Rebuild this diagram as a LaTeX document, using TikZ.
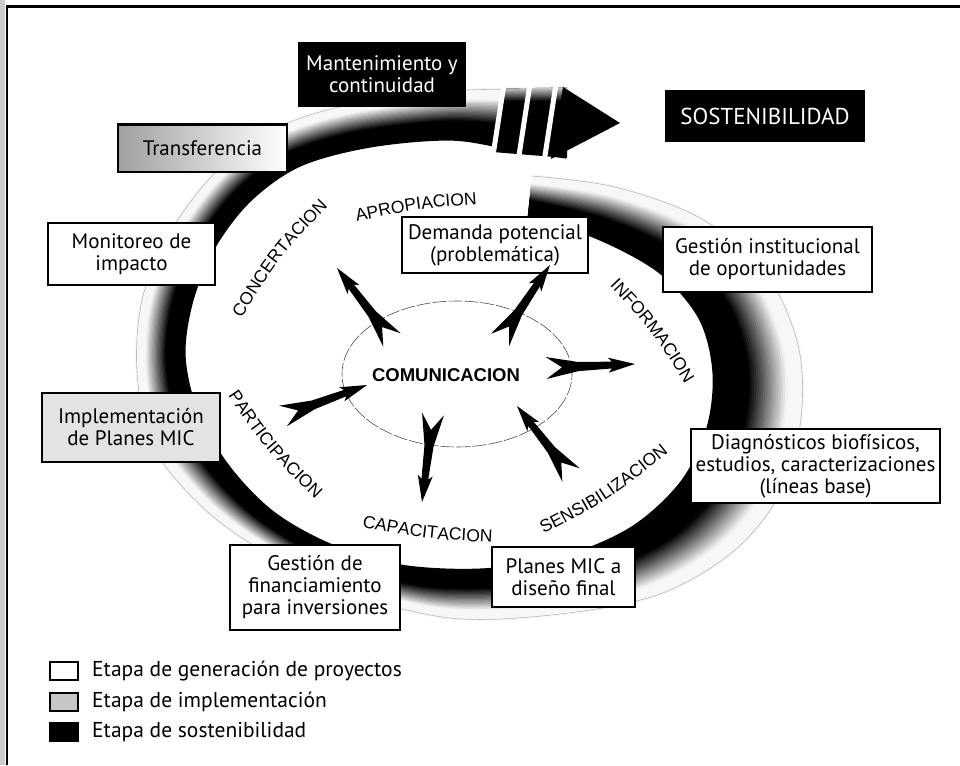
\documentclass[tikz,border=0pt]{standalone}
\usepackage{fontspec}
\setmainfont{PT Sans}
\newfontfamily\ringfamily{Liberation Sans}
\usetikzlibrary{calc,decorations.text,shapes.geometric}

\newcommand\boxfont{\fontsize{21}{22}\selectfont}
\newcommand\ringsize{\ringfamily\fontsize{17.5}{19}\selectfont}

% feathered dart from tail coordinate #1 to tip coordinate #2
\newcommand\dartshape[2]{%
  \fill[dartfill] ($(#1)!11pt!90:(#2)$)
    -- ($(#1)!0.36!(#2)!4.6pt!90:(#2)$)
    -- ($(#1)!0.74!(#2)!3.4pt!90:(#2)$)
    -- ($(#1)!0.70!(#2)!7.5pt!90:(#2)$)
    -- (#2)
    -- ($(#1)!0.70!(#2)!7.5pt!-90:(#2)$)
    -- ($(#1)!0.74!(#2)!3.4pt!-90:(#2)$)
    -- ($(#1)!0.36!(#2)!4.6pt!-90:(#2)$)
    -- ($(#1)!11pt!-90:(#2)$)
    -- ($(#1)!0.18!(#2)$) -- cycle;}

\begin{document}
\begin{tikzpicture}[x=1pt,y=-1pt,
  stagebox/.style={draw=black, line width=1.5pt, fill=white, align=center, font=\boxfont, inner sep=1pt},
  blackbox/.style={fill=black, text=white, align=center, inner sep=1pt},
  ringtext/.style={decorate, decoration={text along path, text align=center, text={|\ringsize|#1}}},
  legendsq/.style={draw=black, line width=1.1pt, minimum width=28pt, minimum height=18pt, inner sep=0pt},
  legendtext/.style={anchor=west, font=\fontsize{21.5}{23}\selectfont, inner sep=0pt},
  hubstyle/.style={draw=black!70, line width=0.6pt, dash pattern=on 14pt off 2pt, ellipse, inner sep=0pt},
  dartfill/.style={fill=black},
  gapline/.style={white, line width=5pt},
]
\useasboundingbox (0,0) rectangle (960,765);

% frame
\fill[gray!40] (0,0) rectangle (5,765);
\draw[line width=2.5pt] (7,765) -- (7,6.5) -- (960,6.5);

% inner (I) and outer (O) edges of the spiral ribbon, clockwise from its start
\coordinate (I1) at (528,215);  \coordinate (O1) at (532,176);
\coordinate (I2) at (598,238);  \coordinate (O2) at (615,187);
\coordinate (I3) at (660,272);  \coordinate (O3) at (700,218);
\coordinate (I4) at (700,318);  \coordinate (O4) at (765,272);
\coordinate (I5) at (714,372);  \coordinate (O5) at (798,345);
\coordinate (I6) at (708,428);  \coordinate (O6) at (801,418);
\coordinate (I7) at (682,482);  \coordinate (O7) at (782,490);
\coordinate (I8) at (632,528);  \coordinate (O8) at (735,550);
\coordinate (I9) at (562,558);  \coordinate (O9) at (660,594);
\coordinate (I10) at (482,570); \coordinate (O10) at (560,614);
\coordinate (I11) at (400,566); \coordinate (O11) at (450,618);
\coordinate (I12) at (330,545); \coordinate (O12) at (340,590);
\coordinate (I13) at (272,512); \coordinate (O13) at (258,548);
\coordinate (I14) at (227,465); \coordinate (O14) at (200,505);
\coordinate (I15) at (196,410); \coordinate (O15) at (152,445);
\coordinate (I16) at (184,355); \coordinate (O16) at (137,372);
\coordinate (I17) at (192,300); \coordinate (O17) at (142,300);
\coordinate (I18) at (214,247); \coordinate (O18) at (168,236);
\coordinate (I19) at (250,200); \coordinate (O19) at (210,178);
\coordinate (I20) at (300,165); \coordinate (O20) at (262,135);
\coordinate (I21) at (370,146); \coordinate (O21) at (335,108);
\coordinate (I22) at (450,139); \coordinate (O22) at (440,92);
\coordinate (I23) at (510,148); \coordinate (O23) at (510,89);
\coordinate (I24) at (566,157); \coordinate (O24) at (566,88);

% ribbon: dark inner side fading to a pale outer side
\foreach \k in {0,...,40}{
  \pgfmathsetmacro\s{\k/40}
  \pgfmathsetmacro\p{\s<0.4 ? 100 : max(3,100*(1-(\s-0.4)/0.45))}
  \draw[line width=3.2pt, black!\p] plot[smooth, tension=0.55] coordinates {
    ($(I1)!\s!(O1)$) ($(I2)!\s!(O2)$) ($(I3)!\s!(O3)$) ($(I4)!\s!(O4)$)
    ($(I5)!\s!(O5)$) ($(I6)!\s!(O6)$) ($(I7)!\s!(O7)$) ($(I8)!\s!(O8)$)
    ($(I9)!\s!(O9)$) ($(I10)!\s!(O10)$) ($(I11)!\s!(O11)$) ($(I12)!\s!(O12)$)
    ($(I13)!\s!(O13)$) ($(I14)!\s!(O14)$) ($(I15)!\s!(O15)$) ($(I16)!\s!(O16)$)
    ($(I17)!\s!(O17)$) ($(I18)!\s!(O18)$) ($(I19)!\s!(O19)$) ($(I20)!\s!(O20)$)
    ($(I21)!\s!(O21)$) ($(I22)!\s!(O22)$) ($(I23)!\s!(O23)$) ($(I24)!\s!(O24)$)};
}
\draw[gray!55, line width=0.6pt] plot[smooth, tension=0.55] coordinates {
  (O1) (O2) (O3) (O4) (O5) (O6) (O7) (O8) (O9) (O10) (O11) (O12)
  (O13) (O14) (O15) (O16) (O17) (O18) (O19) (O20) (O21) (O22) (O23) (O24)};

% arrow end of the ribbon: solid shaft with a pale top rim, three cuts and the head
\coordinate (sh1) at (503.5,88.5); \coordinate (sh2) at (567,87.5);
\coordinate (sh3) at (567,158);    \coordinate (sh4) at (492.5,152);
\coordinate (rim1) at (501.4,101); \coordinate (rim2) at (567,101);
\fill (sh1) -- (sh2) -- (sh3) -- (sh4) -- cycle;
\shade[top color=gray!40, bottom color=black] (sh1) -- (sh2) -- (rim2) -- (rim1) -- cycle;
\coordinate (g1a) at (504,84);  \coordinate (g1b) at (492,162);
\coordinate (g2a) at (530,84);  \coordinate (g2b) at (518,162);
\coordinate (g3a) at (556,84);  \coordinate (g3b) at (544,162);
\draw[gapline] (g1a) -- (g1b);
\draw[gapline] (g2a) -- (g2b);
\draw[gapline] (g3a) -- (g3b);
\coordinate (hd1) at (563,87); \coordinate (hdtip) at (620,123); \coordinate (hd2) at (551,159);
\fill (hd1) -- (hdtip) -- (hd2) -- cycle;

% stage boxes
\node[blackbox, font=\boxfont, minimum width=168pt, minimum height=65pt] (mant) at (382,74.5)
  {Mantenimiento y\\continuidad};
\node[blackbox, font=\fontsize{23}{25}\selectfont, minimum width=200pt, minimum height=52pt] (sost) at (765,116)
  {SOSTENIBILIDAD};
\node[stagebox, left color=gray!75, middle color=gray!12, right color=white,
      minimum width=169pt, minimum height=47pt] (transf) at (202.5,148.5) {Transferencia};
\draw[line width=3pt] (transf.north west) -- (transf.north east);
\node[stagebox, minimum width=167pt, minimum height=62pt] (monit) at (131.5,254) {Monitoreo de\\impacto};
\node[stagebox, fill=gray!22, minimum width=178pt, minimum height=69pt] (impl) at (131,427.5)
  {Implementación\\de Planes MIC};
\node[stagebox, minimum width=186pt, minimum height=56pt] (dem) at (495,245)
  {Demanda potencial\\(problemática)};
\node[stagebox, minimum width=209pt, minimum height=65pt] (gins) at (767.5,259.5)
  {Gestión institucional\\de oportunidades};
\node[stagebox, minimum width=249pt, minimum height=74pt] (diag) at (815.5,466)
  {Diagnósticos biofísicos,\\estudios, caracterizaciones\\(líneas base)};
\node[stagebox, minimum width=143pt, minimum height=60pt] (plan) at (563.5,577)
  {Planes MIC a\\diseño final};
\node[stagebox, minimum width=170pt, minimum height=85pt] (gfin) at (315,587.5)
  {Gestión de\\financiamiento\\para inversiones};

% communication hub and its darts
\node[hubstyle, minimum width=230pt, minimum height=146pt] (hub) at (457,374) {};
\node[font=\ringfamily\bfseries\fontsize{18.5}{20}\selectfont, inner sep=0pt] (hubtext) at (446,375) {COMUNICACION};

\coordinate (d1t) at (392,340); \coordinate (d1h) at (337,268);
\coordinate (d2t) at (500,340); \coordinate (d2h) at (550,265);
\coordinate (d3t) at (546,368); \coordinate (d3h) at (635,364);
\coordinate (d4t) at (571,475); \coordinate (d4h) at (517,406);
\coordinate (d5t) at (433,414); \coordinate (d5h) at (422,502);
\coordinate (d6t) at (283,416); \coordinate (d6h) at (367,385);
\dartshape{d1t}{d1h}
\dartshape{d2t}{d2h}
\dartshape{d3t}{d3h}
\dartshape{d4t}{d4h}
\dartshape{d5t}{d5h}
\dartshape{d6t}{d6h}

% labels around the hub
\path[ringtext=APROPIACION] (343,224.4) .. controls (416.3,208.7) .. (491,203.6);
\path[ringtext=CONCERTACION] (230.8,336) .. controls (278.3,257.2) .. (342.8,191.4);
\path[ringtext=INFORMACION] (592.6,268) .. controls (652.6,331) .. (697.8,405.2);
\path[ringtext=PARTICIPACION] (216.4,378.3) .. controls (266.3,451.9) .. (330.4,513.5);
\path[ringtext=CAPACITACION] (344.8,524.3) .. controls (426.7,539.3) .. (509.8,543.2);
\path[ringtext=SENSIBILIZACION] (524.1,543.9) .. controls (610.6,500) .. (685.5,438.1);

% legend
\node[legendsq, fill=white] (lg1) at (64,671) {};
\node[legendsq, fill=gray!45] (lg2) at (64,702) {};
\node[legendsq, fill=black] (lg3) at (64,732) {};
\node[legendtext] (lt1) at (92,671) {Etapa de generación de proyectos};
\node[legendtext] (lt2) at (92,702) {Etapa de implementación};
\node[legendtext] (lt3) at (92,732) {Etapa de sostenibilidad};
\end{tikzpicture}
\end{document}
